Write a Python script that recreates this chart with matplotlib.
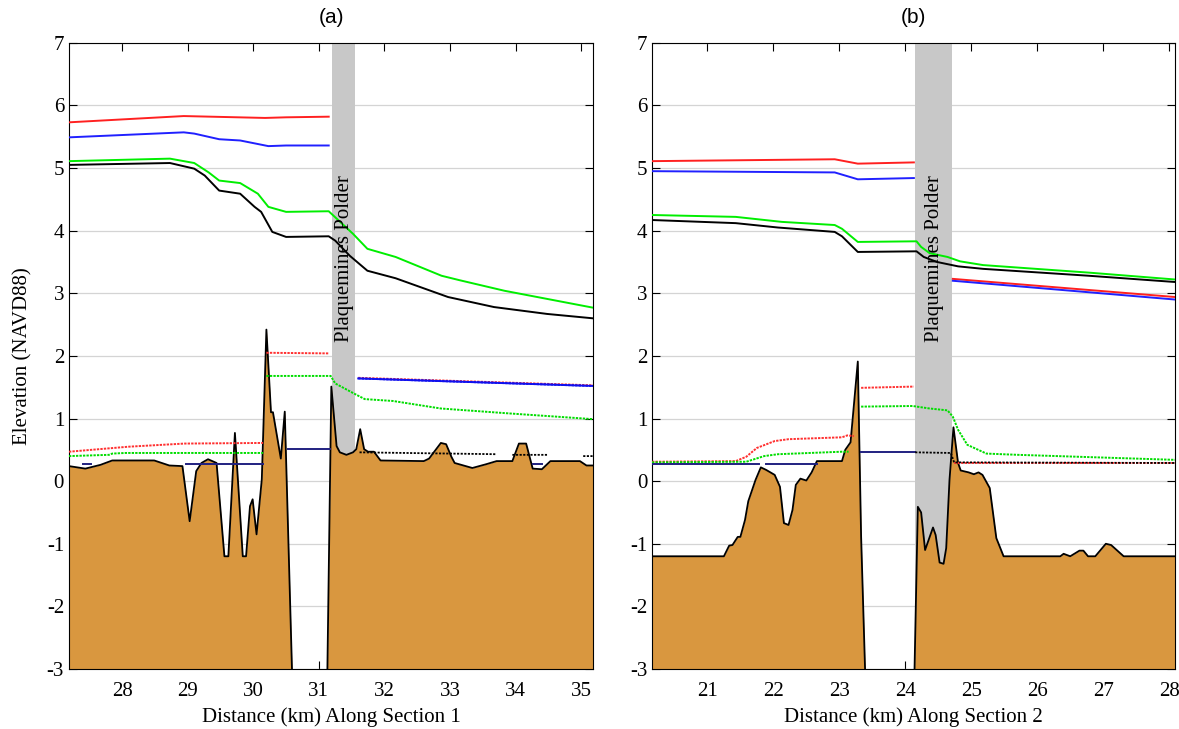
import numpy as np
import matplotlib.pyplot as plt

nan = np.nan

# ---- panel (a): Section 1 ----
A_XLIM = (27.19, 35.18)
A_POLDER = (31.2, 31.55)

a_ground_x1 = [27.19, 27.44, 27.67, 27.85, 28.49, 28.72, 28.92, 29.03, 29.13, 29.21, 29.31, 29.44,
               29.56, 29.62, 29.72, 29.84, 29.89, 29.95, 29.99, 30.05, 30.13, 30.20, 30.27, 30.30,
               30.42, 30.48, 30.59]
a_ground_y1 = [0.24, 0.20, 0.26, 0.33, 0.33, 0.25, 0.24, -0.64, 0.16, 0.29, 0.35, 0.29,
               -1.20, -1.20, 0.77, -1.20, -1.20, -0.40, -0.29, -0.85, 0.03, 2.42, 1.10, 1.10,
               0.36, 1.11, -3.0]
a_ground_x2 = [31.13, 31.19, 31.27, 31.32, 31.42, 31.52, 31.57, 31.63, 31.69, 31.75, 31.84, 31.94,
               32.6, 32.68, 32.86, 32.94, 33.02, 33.07, 33.34, 33.55, 33.71, 33.95, 34.05, 34.16,
               34.26, 34.4, 34.53, 34.98, 35.08, 35.18]
a_ground_y2 = [-3.0, 1.51, 0.56, 0.46, 0.42, 0.46, 0.51, 0.83, 0.51, 0.47, 0.47, 0.33,
               0.32, 0.36, 0.61, 0.59, 0.39, 0.29, 0.21, 0.27, 0.32, 0.32, 0.60, 0.60,
               0.20, 0.19, 0.32, 0.32, 0.25, 0.25]

a_red_hi_x = [27.19, 28.94, 30.18, 30.5, 31.15]
a_red_hi_y = [5.73, 5.83, 5.80, 5.81, 5.82]
a_blue_hi_x = [27.19, 28.94, 29.1, 29.48, 29.8, 30.23, 30.5, 31.15]
a_blue_hi_y = [5.49, 5.57, 5.55, 5.46, 5.44, 5.35, 5.36, 5.36]
a_green_hi_x = [27.19, 28.73, 29.1, 29.32, 29.48, 29.8, 30.07, 30.23, 30.5, 31.15, 31.52, 31.74,
                32.17, 32.87, 33.14, 33.83, 34.48, 35.18]
a_green_hi_y = [5.11, 5.15, 5.08, 4.93, 4.80, 4.76, 4.59, 4.38, 4.30, 4.31, 3.95, 3.71,
                3.58, 3.28, 3.21, 3.04, 2.91, 2.77]
a_black_x = [27.19, 28.73, 29.1, 29.26, 29.48, 29.8, 30.02, 30.12, 30.29, 30.5, 31.15, 31.25,
             31.47, 31.74, 32.17, 32.97, 33.67, 34.48, 35.18]
a_black_y = [5.05, 5.08, 4.99, 4.88, 4.64, 4.59, 4.38, 4.30, 3.98, 3.90, 3.91, 3.84,
             3.60, 3.36, 3.24, 2.94, 2.78, 2.67, 2.60]

a_red_lo_x = [27.19, 28.1, 28.95, 30.15, nan, 30.2, 31.15, nan, 31.6, 35.18]
a_red_lo_y = [0.47, 0.55, 0.60, 0.61, nan, 2.05, 2.04, nan, 1.65, 1.53]
a_green_lo_x = [27.19, 27.8, 27.85, 28.05, 30.15, nan, 30.2, 31.18, 31.25, 31.57, 31.7, 32.13,
                32.86, 33.92, 35.18]
a_green_lo_y = [0.40, 0.42, 0.44, 0.45, 0.45, nan, 1.68, 1.68, 1.56, 1.38, 1.31, 1.28,
                1.16, 1.08, 0.99]
a_blue_lo_x = [31.6, 35.18]
a_blue_lo_y = [1.64, 1.52]
a_navy_x = [27.41, 27.52, nan, 28.97, 30.15, nan, 30.53, 31.17, nan, 34.26, 34.40]
a_navy_y = [0.27, 0.27, nan, 0.27, 0.27, nan, 0.51, 0.51, nan, 0.28, 0.28]
a_dot_x = [31.62, 33.71, nan, 33.95, 34.5, nan, 35.03, 35.18]
a_dot_y = [0.46, 0.43, nan, 0.42, 0.42, nan, 0.40, 0.40]

# ---- panel (b): Section 2 ----
B_XLIM = (20.16, 28.09)
B_POLDER = (24.15, 24.71)

b_ground_x1 = [20.16, 21.25, 21.33, 21.38, 21.46, 21.5, 21.57, 21.62, 21.73, 21.81, 21.89, 22.02,
               22.1, 22.16, 22.23, 22.29, 22.34, 22.41, 22.5, 22.58, 22.66, 23.04, 23.09, 23.17,
               23.28, 23.33, 23.39]
b_ground_y1 = [-1.2, -1.2, -1.03, -1.02, -0.89, -0.89, -0.62, -0.32, 0.02, 0.22, 0.18, 0.10,
               -0.09, -0.67, -0.70, -0.46, -0.06, 0.04, 0.01, 0.14, 0.32, 0.32, 0.50, 0.62,
               1.91, -0.88, -3.0]
b_ground_x2 = [24.14, 24.19, 24.24, 24.3, 24.42, 24.46, 24.52, 24.58, 24.62, 24.67, 24.73, 24.8,
               24.84, 24.96, 25.04, 25.11, 25.17, 25.28, 25.38, 25.49, 26.35, 26.4, 26.5, 26.64,
               26.7, 26.77, 26.88, 27.04, 27.12, 27.31, 28.09]
b_ground_y2 = [-3.0, -0.41, -0.50, -1.10, -0.74, -0.86, -1.30, -1.32, -1.07, 0.02, 0.86, 0.29,
               0.17, 0.14, 0.11, 0.14, 0.10, -0.11, -0.91, -1.20, -1.20, -1.16, -1.20, -1.11,
               -1.11, -1.20, -1.20, -1.00, -1.02, -1.20, -1.20]

b_red_hi_x = [20.16, 22.93, 23.28, 24.13, nan, 24.72, 28.09]
b_red_hi_y = [5.11, 5.14, 5.07, 5.09, nan, 3.23, 2.94]
b_blue_hi_x = [20.16, 22.93, 23.28, 24.13, nan, 24.72, 28.09]
b_blue_hi_y = [4.95, 4.93, 4.82, 4.84, nan, 3.20, 2.90]
b_green_hi_x = [20.16, 21.43, 22.13, 22.93, 23.04, 23.28, 24.17, 24.24, 24.37, 24.64, 24.83,
                25.18, 26.78, 28.09]
b_green_hi_y = [4.25, 4.22, 4.14, 4.09, 4.03, 3.82, 3.83, 3.74, 3.64, 3.58, 3.51,
                3.45, 3.33, 3.22]
b_black_x = [20.16, 21.43, 22.07, 22.93, 23.04, 23.28, 24.17, 24.28, 24.48, 24.8, 25.18,
             26.78, 28.09]
b_black_y = [4.17, 4.12, 4.05, 3.98, 3.91, 3.66, 3.67, 3.58, 3.50, 3.43, 3.39,
             3.28, 3.18]

b_red_lo_x = [20.16, 21.43, 21.59, 21.75, 22.02, 22.23, 23.04, 23.12, 23.22, nan, 23.33, 24.13,
              nan, 24.74, 28.09]
b_red_lo_y = [0.31, 0.32, 0.39, 0.53, 0.64, 0.67, 0.70, 0.73, 0.72, nan, 1.49, 1.51,
              nan, 0.29, 0.29]
b_green_lo_x = [20.16, 21.59, 21.86, 22.07, 23.04, 23.14, nan, 23.33, 24.11, 24.37, 24.64,
                24.72, 24.8, 24.94, 25.23, 25.71, 28.09]
b_green_lo_y = [0.30, 0.31, 0.40, 0.43, 0.47, 0.47, nan, 1.19, 1.20, 1.16, 1.13,
                1.03, 0.82, 0.58, 0.44, 0.42, 0.34]
b_navy_x = [20.16, 21.78, nan, 21.89, 22.66, nan, 23.33, 24.15]
b_navy_y = [0.28, 0.28, nan, 0.28, 0.28, nan, 0.46, 0.46]
b_dot_x = [24.15, 24.69, 24.74, 28.09]
b_dot_y = [0.46, 0.45, 0.30, 0.29]

GROUND = '#d9973f'
SERIF = 'Liberation Serif'

plt.rcParams['font.family'] = SERIF
plt.rcParams['font.size'] = 15
plt.rcParams['axes.unicode_minus'] = False

fig = plt.figure(figsize=(11.79, 7.29), dpi=100)
ax_a = fig.add_axes([0.0585, 0.0823, 0.4445, 0.859])
ax_b = fig.add_axes([0.553, 0.0823, 0.4437, 0.859])


def draw_panel(ax, xlim, polder, grounds, hi, lo, navy, dot, xticks, xlabel, title):
    ax.axvspan(polder[0], polder[1], color='#c8c8c8', zorder=1, lw=0)
    for gx, gy in grounds:
        ax.fill_between(gx, gy, -3, color=GROUND, zorder=2, lw=0)
        ax.plot(gx, gy, color='black', lw=1.3, zorder=3)
    for x, y, c in lo:
        ax.plot(x, y, color=c, lw=1.4, ls=(0, (1.2, 0.6)), zorder=4)
    ax.plot(navy[0], navy[1], color='#202080', lw=1.4, zorder=4)
    ax.plot(dot[0], dot[1], color='black', lw=1.3, ls=(0, (1.2, 0.8)), zorder=5)
    for x, y, c in hi:
        ax.plot(x, y, color=c, lw=1.4, zorder=4)
    ax.text(sum(polder) / 2 + 0.01, 3.55, 'Plaquemines Polder', rotation=90,
            ha='center', va='center', fontsize=15, zorder=6)
    ax.set_xlim(*xlim)
    ax.set_ylim(-3, 7)
    ax.set_xticks(xticks)
    ax.set_yticks(range(-3, 8))
    ax.grid(axis='y', color='#d4d4d4', lw=0.9)
    ax.set_axisbelow(True)
    ax.tick_params(direction='in', top=True, right=True, length=6, labelsize=15)
    ax.tick_params(axis='x', pad=9)
    ax.set_xlabel(xlabel, fontsize=15, labelpad=5)
    ax.set_title(title, family='Liberation Sans', fontsize=15, pad=14)


draw_panel(ax_a, A_XLIM, A_POLDER,
           [(a_ground_x1, a_ground_y1), (a_ground_x2, a_ground_y2)],
           [(a_red_hi_x, a_red_hi_y, '#ff2020'), (a_blue_hi_x, a_blue_hi_y, '#2020ff'),
            (a_green_hi_x, a_green_hi_y, '#00ee00'), (a_black_x, a_black_y, 'black')],
           [(a_red_lo_x, a_red_lo_y, '#ff3030'), (a_green_lo_x, a_green_lo_y, '#00dd00'),
            (a_blue_lo_x, a_blue_lo_y, '#1010ee')],
           (a_navy_x, a_navy_y), (a_dot_x, a_dot_y),
           range(28, 36), 'Distance (km) Along Section 1', '(a)')
ax_a.plot(a_blue_lo_x, a_blue_lo_y, color='#1010ee', lw=1.4, zorder=5)
ax_a.set_ylabel('Elevation (NAVD88)', fontsize=15, labelpad=10)

draw_panel(ax_b, B_XLIM, B_POLDER,
           [(b_ground_x1, b_ground_y1), (b_ground_x2, b_ground_y2)],
           [(b_red_hi_x, b_red_hi_y, '#ff2020'), (b_blue_hi_x, b_blue_hi_y, '#2020ff'),
            (b_green_hi_x, b_green_hi_y, '#00ee00'), (b_black_x, b_black_y, 'black')],
           [(b_red_lo_x, b_red_lo_y, '#ff3030'), (b_green_lo_x, b_green_lo_y, '#00dd00')],
           (b_navy_x, b_navy_y), (b_dot_x, b_dot_y),
           range(21, 29), 'Distance (km) Along Section 2', '(b)')

fig.savefig('out.png', dpi=100)
